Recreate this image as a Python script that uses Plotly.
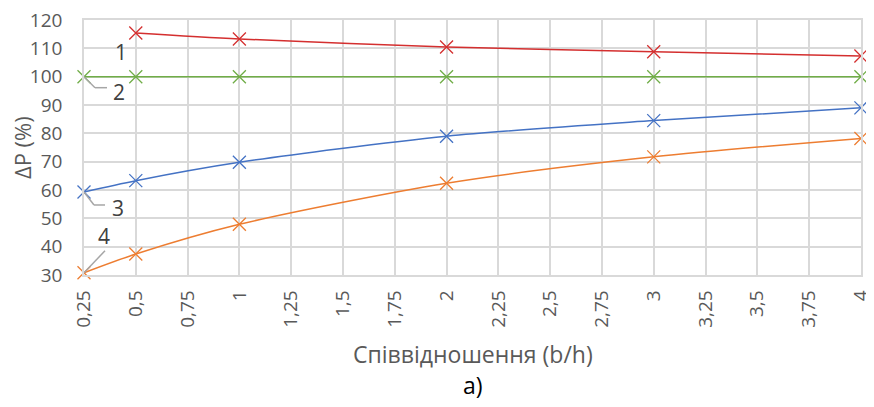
import plotly.graph_objects as go

# ---- data ----
x_ticks = [0.25, 0.5, 0.75, 1, 1.25, 1.5, 1.75, 2, 2.25, 2.5, 2.75, 3, 3.25, 3.5, 3.75, 4]
x_tick_labels = ["0,25", "0,5", "0,75", "1", "1,25", "1,5", "1,75", "2", "2,25", "2,5",
                 "2,75", "3", "3,25", "3,5", "3,75", "4"]
y_ticks = [30, 40, 50, 60, 70, 80, 90, 100, 110, 120]

x1 = [0.5, 1, 2, 3, 4]
s1 = [115.4, 113.3, 110.5, 108.8, 107.3]
x2 = [0.25, 0.5, 1, 2, 3, 4]
s2 = [100, 100, 100, 100, 100, 100]
x3 = [0.25, 0.5, 1, 2, 3, 4]
s3 = [59.3, 63.3, 69.8, 79.0, 84.5, 89.0]
x4 = [0.25, 0.5, 1, 2, 3, 4]
s4 = [30.8, 37.4, 47.9, 62.4, 71.7, 78.2]

series = [
    ("1", x1, s1, "#D42F2F"),
    ("2", x2, s2, "#70AD47"),
    ("3", x3, s3, "#4472C4"),
    ("4", x4, s4, "#ED7D31"),
]

FONT = "Open Sans"
GRID = "#D9D9D9"
TXT = "#595959"

fig = go.Figure()
for name, xs, ys, col in series:
    fig.add_trace(go.Scatter(
        x=xs, y=ys, name=name, mode="lines+markers",
        line=dict(color=col, width=1.5, shape="spline", smoothing=0.8),
        marker=dict(symbol="x-thin", size=13, line=dict(color=col, width=1.3)),
        cliponaxis=False, showlegend=False,
    ))

# page body has an 8px margin, so the figure is sized/offset to compensate
fig.update_layout(
    width=866, height=399,
    margin=dict(l=76, r=13, t=12, b=132, autoexpand=False),
    paper_bgcolor="white", plot_bgcolor="white",
    font=dict(family=FONT, color=TXT, size=19),
    showlegend=False,
)
fig.update_xaxes(
    range=[0.25, 4.0005], tickvals=x_ticks, ticktext=x_tick_labels, tickangle=-90,
    showgrid=True, gridcolor=GRID, gridwidth=1.5,
    showline=True, linecolor=GRID, linewidth=1.5, mirror=True,
    zeroline=False, ticks="", ticklabelstandoff=6,
    automargin=False,
    tickfont=dict(family=FONT, size=19, color=TXT),
)
fig.update_yaxes(
    range=[30, 120.01], tickvals=y_ticks,
    showgrid=True, gridcolor=GRID, gridwidth=1.5,
    showline=True, linecolor=GRID, linewidth=1.5, mirror=True,
    zeroline=False, ticks="", ticklabelstandoff=16, ticklabeloverflow="allow",
    automargin=False,
    tickfont=dict(family=FONT, size=19, color=TXT),
)

# axis titles and caption
fig.add_annotation(text="Співвідношення (b/h)", xref="paper", yref="paper",
                   x=0.5, y=-0.31, yanchor="middle", showarrow=False,
                   font=dict(family=FONT, size=23, color=TXT))
fig.add_annotation(text="a)", xref="paper", yref="paper",
                   x=0.5, y=-0.431, yanchor="middle", showarrow=False,
                   font=dict(family=FONT, size=23, color="#000000"))
fig.add_annotation(text="ΔP (%)", xref="paper", yref="paper",
                   x=-0.0803, y=0.5, xanchor="center", yanchor="middle",
                   textangle=-90, showarrow=False,
                   font=dict(family=FONT, size=22, color=TXT))

# series labels with leader lines
LEAD = "#A6A6A6"
lab_font = dict(family=FONT, size=21, color="#404040")
fig.add_annotation(text="1", x=x1[0], y=s1[0], xref="x", yref="y",
                   xshift=-15, yshift=-19, showarrow=False, font=lab_font)
fig.add_annotation(text="2", x=x2[0], y=s2[0], xref="x", yref="y",
                   xshift=35, yshift=-15, showarrow=False, font=lab_font)
fig.add_annotation(text="3", x=x3[0], y=s3[0], xref="x", yref="y",
                   xshift=34, yshift=-16, showarrow=False, font=lab_font)
fig.add_annotation(text="4", x=x4[0], y=s4[0], xref="x", yref="y",
                   xshift=20, yshift=37, showarrow=False, font=lab_font)

def leader(xa, ya, pts):
    for (a0, b0), (a1, b1) in zip(pts[:-1], pts[1:]):
        fig.add_shape(type="line", xref="x", yref="y",
                      xsizemode="pixel", ysizemode="pixel",
                      xanchor=xa, yanchor=ya,
                      x0=a0, y0=b0, x1=a1, y1=b1,
                      line=dict(color=LEAD, width=1.5))

leader(x2[0], s2[0], [(0, 0), (11, -11), (23, -11)])
leader(x3[0], s3[0], [(0, 0), (10, -13), (21, -13)])
leader(x4[0], s4[0], [(0, 0), (21, 22)])

fig.write_html("out.html")
